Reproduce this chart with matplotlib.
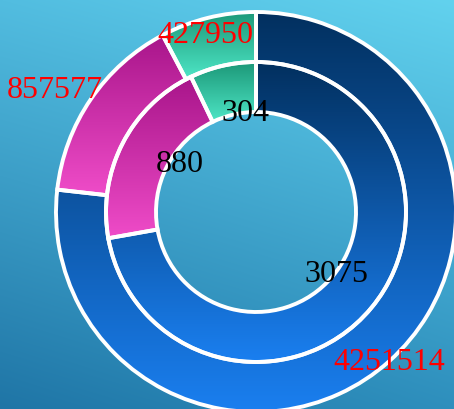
import numpy as np
import matplotlib
matplotlib.use("Agg")
import matplotlib.pyplot as plt
from matplotlib.colors import to_rgb

# ---- data ----
outer_values = [4251514, 857577, 427950]
inner_values = [3075, 880, 304]
outer_labels = ["4251514", "857577", "427950"]
inner_labels = ["3075", "880", "304"]

# ---- styles ----
grad_top = ["#02305f", "#a8158a", "#1c9878"]
grad_bot = ["#1a7ff0", "#ef4cc8", "#4ee6c6"]
outer_label_r = [198, 237, 188]
outer_label_dth = [0.7, 2.3, 1.8]
inner_label_r = [99, 92, 104]
inner_label_dth = [4.0, -7.0, -7.0]
W, H = 454, 410
cx, cy = 256, H - 213

fig = plt.figure(figsize=(W / 100, H / 100), dpi=100)
ax = fig.add_axes([0, 0, 1, 1])
ax.set_axis_off()

# background gradient (bilinear between corners)
tl, tr = np.array(to_rgb("#52bde0")), np.array(to_rgb("#62d2ee"))
bl, br = np.array(to_rgb("#1f75a6")), np.array(to_rgb("#2e8fbd"))
u = np.linspace(0, 1, 200)[None, :, None]
v = np.linspace(0, 1, 200)[:, None, None]
top = tl * (1 - u) + tr * u
bot = bl * (1 - u) + br * u
bg = top * (1 - v) + bot * v
ax.imshow(bg, extent=[0, W, 0, H], origin="upper", zorder=0, interpolation="bilinear")


def ring(values, radius, width, labels, lab_r, lab_dth, color):
    wedges, _ = ax.pie(values, radius=radius, center=(cx, cy), startangle=90,
                       counterclock=False, frame=True,
                       wedgeprops=dict(width=width, edgecolor="white",
                                       linewidth=2.8, facecolor="none"))
    for i, w in enumerate(wedges):
        w.set_zorder(3)
        ext = w.get_path().get_extents()
        c0, c1 = np.array(to_rgb(grad_top[i])), np.array(to_rgb(grad_bot[i]))
        t = np.linspace(0, 1, 256)[:, None, None]
        img = c0 * (1 - t) + c1 * t
        im = ax.imshow(img, extent=[ext.x0, ext.x1, ext.y0, ext.y1], origin="upper",
                       aspect="auto", zorder=2, interpolation="bilinear")
        im.set_clip_path(w)
        mid = np.deg2rad((w.theta1 + w.theta2) / 2 + lab_dth[i])
        ax.text(cx + lab_r[i] * np.cos(mid), cy + lab_r[i] * np.sin(mid), labels[i],
                ha="center", va="center_baseline", fontsize=23, family="Liberation Serif",
                color=color, zorder=5)
    return wedges


ring(outer_values, 200, 50, outer_labels, outer_label_r, outer_label_dth, "red")
ring(inner_values, 150, 50, inner_labels, inner_label_r, inner_label_dth, "black")

ax.set_xlim(0, W)
ax.set_ylim(0, H)
ax.set_aspect("auto")
fig.savefig("out.png", dpi=100)
